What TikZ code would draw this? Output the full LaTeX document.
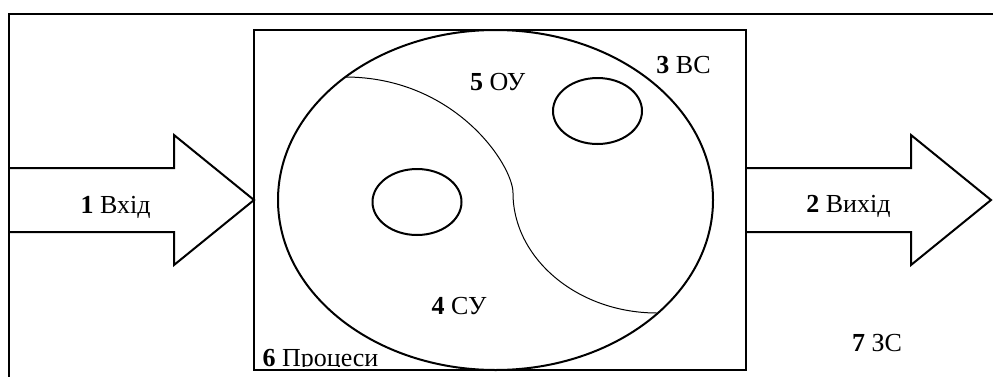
\documentclass[tikz,border=0pt]{standalone}
\usepackage{fontspec}
\setmainfont{Liberation Serif}
\begin{document}
\begin{tikzpicture}[x=1pt,y=-1pt,
  heavy/.style={line width=2pt, line join=miter},
  thin/.style={line width=1pt},
  lbl/.style={anchor=base, inner sep=0pt, font=\fontsize{26}{30}\selectfont}]
\useasboundingbox (0,0) rectangle (993,376);
% input arrow
\draw[heavy] (9,168) -- (174,168) -- (174,135) -- (254,200) -- (174,265) -- (174,232) -- (9,232);
% output arrow
\draw[heavy] (746,168) -- (911,168) -- (911,135) -- (991,200) -- (911,265) -- (911,232) -- (746,232);
% outer system boundary (extends beyond the frame)
\begin{scope}
\clip (0,0) rectangle (993,376);
\draw[heavy] (9,400) -- (9,14) -- (1010,14);
\end{scope}
% inner rectangle
\draw[heavy] (254,30) rectangle (746,370);
% big ellipse
\coordinate (E) at (495.5,200);
\draw[heavy] (E) ellipse [x radius=217.5, y radius=170];
% dividing curve
\coordinate (c1) at (345,77);
\coordinate (c2) at (513,193);
\coordinate (c3) at (657,313);
\draw[thin] (c1) .. controls (455,77) and (513,165) .. (c2)
            .. controls (513,258) and (577,313) .. (c3);
% small ellipses
\coordinate (s1) at (417,202);
\coordinate (s2) at (597.5,111);
\draw[heavy] (s1) ellipse [x radius=44.5, y radius=33];
\draw[heavy] (s2) ellipse [x radius=44.5, y radius=33];
% labels
\node[lbl] (in) at (115.7,213) {\textbf{1} Вхід};
\node[lbl] (out) at (848.5,212) {\textbf{2} Вихід};
\node[lbl] (vs) at (683.5,73) {\textbf{3} ВС};
\node[lbl] (su) at (459,314) {\textbf{4} СУ};
\node[lbl] (ou) at (497.7,90) {\textbf{5} ОУ};
\begin{scope}
\clip (250,330) rectangle (420,366.5);
\node[lbl] (pr) at (320.5,366) {\textbf{6} Процеси};
\end{scope}
\node[lbl] (zs) at (877,351) {\textbf{7} ЗС};
\end{tikzpicture}
\end{document}
